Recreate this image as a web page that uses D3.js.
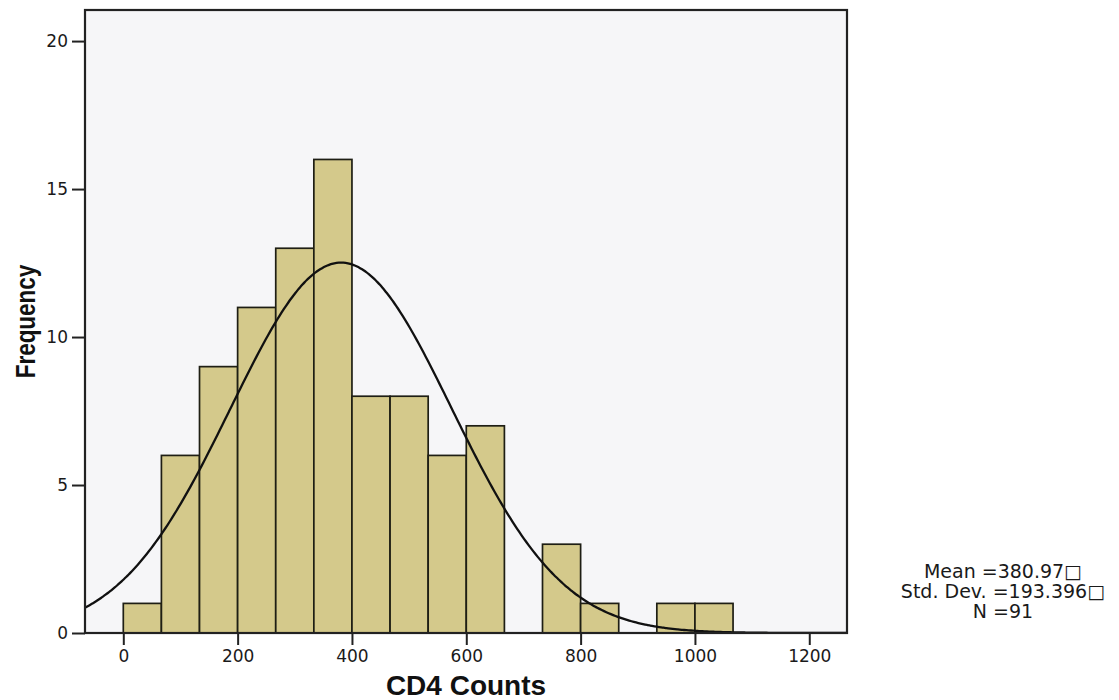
<!DOCTYPE html>
<html>
<head>
<meta charset="utf-8">
<script src="https://cdn.jsdelivr.net/npm/d3@7"></script>
<style>
  body { margin: 0; background: #fff; }
  svg { display: block; }
</style>
</head>
<body>
<svg id="chart"></svg>
<script>
// histogram bins (lower edge of each bin) and counts
const binStarts = [0, 66.67, 133.33, 200, 266.67, 333.33, 400, 466.67, 533.33, 600, 666.67, 733.33, 800, 866.67, 933.33, 1000];
const binWidth = 66.67;
const counts = [1, 6, 9, 11, 13, 16, 8, 8, 6, 7, 0, 3, 1, 0, 1, 1];

// summary stats shown on the right
const mean = 380.97;
const stdDev = 193.396;
const n = 91;
const statLines = ['Mean =380.97\u25A1', 'Std. Dev. =193.396\u25A1', 'N =91'];

const xTicks = [0, 200, 400, 600, 800, 1000, 1200];
const yTicks = [0, 5, 10, 15, 20];

const W = 1119, H = 700;
const svg = d3.select('#chart').attr('width', W).attr('height', H);

const box = { left: 85, right: 847, top: 10, bottom: 633 };

const x = d3.scaleLinear().domain([-67, 1266]).range([box.left, box.right]);
const y = d3.scaleLinear().domain([0, 21.05]).range([box.bottom, box.top]);

// plot background
svg.append('rect')
    .attr('x', box.left).attr('y', box.top)
    .attr('width', box.right - box.left).attr('height', box.bottom - box.top)
    .attr('fill', '#f6f6f8');

svg.append('clipPath').attr('id', 'clip')
    .append('rect')
    .attr('x', box.left).attr('y', box.top)
    .attr('width', box.right - box.left).attr('height', box.bottom - box.top);

// bars
svg.append('g')
    .selectAll('rect')
    .data(binStarts.map((s, i) => ({ s, c: counts[i] })).filter(d => d.c > 0))
    .enter()
    .append('rect')
    .attr('x', d => x(d.s))
    .attr('y', d => y(d.c))
    .attr('width', d => x(d.s + binWidth) - x(d.s))
    .attr('height', d => y(0) - y(d.c))
    .attr('fill', '#d4c98b')
    .attr('stroke', '#1e1e14')
    .attr('stroke-width', 1.7);

// normal curve scaled to counts
const curveXs = d3.range(-67, 1266, 4);
const scaleFactor = n * binWidth / (stdDev * Math.sqrt(2 * Math.PI));
const curve = d3.line()
    .x(d => x(d))
    .y(d => y(scaleFactor * Math.exp(-0.5 * Math.pow((d - mean) / stdDev, 2))))
    .curve(d3.curveBasis);

svg.append('path')
    .datum(curveXs)
    .attr('d', curve)
    .attr('clip-path', 'url(#clip)')
    .attr('fill', 'none')
    .attr('stroke', '#111')
    .attr('stroke-width', 2.3);

// frame
svg.append('rect')
    .attr('x', box.left).attr('y', box.top)
    .attr('width', box.right - box.left).attr('height', box.bottom - box.top)
    .attr('fill', 'none')
    .attr('stroke', '#222')
    .attr('stroke-width', 2.2);

// axes
const xAxis = svg.append('g')
    .attr('transform', `translate(0, ${box.bottom})`)
    .call(d3.axisBottom(x).tickValues(xTicks).tickFormat(d3.format('d'))
        .tickSize(12).tickPadding(5).tickSizeOuter(0));

const yAxis = svg.append('g')
    .attr('transform', `translate(${box.left}, 0)`)
    .call(d3.axisLeft(y).tickValues(yTicks).tickFormat(d3.format('d'))
        .tickSize(13).tickPadding(4).tickSizeOuter(0));

[xAxis, yAxis].forEach(g => {
    g.select('.domain').remove();
    g.selectAll('.tick line').attr('stroke', '#222').attr('stroke-width', 2);
    g.selectAll('.tick text')
        .attr('fill', '#1a1a1a')
        .style('font-family', '"DejaVu Sans", sans-serif')
        .style('font-size', '17px');
});

// axis titles
svg.append('text')
    .attr('x', (box.left + box.right) / 2)
    .attr('y', 695)
    .attr('text-anchor', 'middle')
    .style('font-family', '"Liberation Sans", Arial, sans-serif')
    .style('font-weight', 'bold')
    .style('font-size', '28px')
    .attr('fill', '#111')
    .text('CD4 Counts');

svg.append('text')
    .attr('transform', `translate(35, ${(box.top + box.bottom) / 2}) rotate(-90) scale(1, 1.25)`)
    .attr('text-anchor', 'middle')
    .style('font-family', '"Liberation Sans", Arial, sans-serif')
    .style('font-weight', 'bold')
    .style('font-size', '22.5px')
    .attr('fill', '#111')
    .text('Frequency');

// stats block
svg.append('g')
    .selectAll('text')
    .data(statLines)
    .enter()
    .append('text')
    .attr('x', 1003)
    .attr('y', (d, i) => 578 + i * 20)
    .attr('text-anchor', 'middle')
    .style('font-family', '"DejaVu Sans", sans-serif')
    .style('font-size', '19px')
    .attr('fill', '#1a1a1a')
    .text(d => d);
</script>
</body>
</html>
